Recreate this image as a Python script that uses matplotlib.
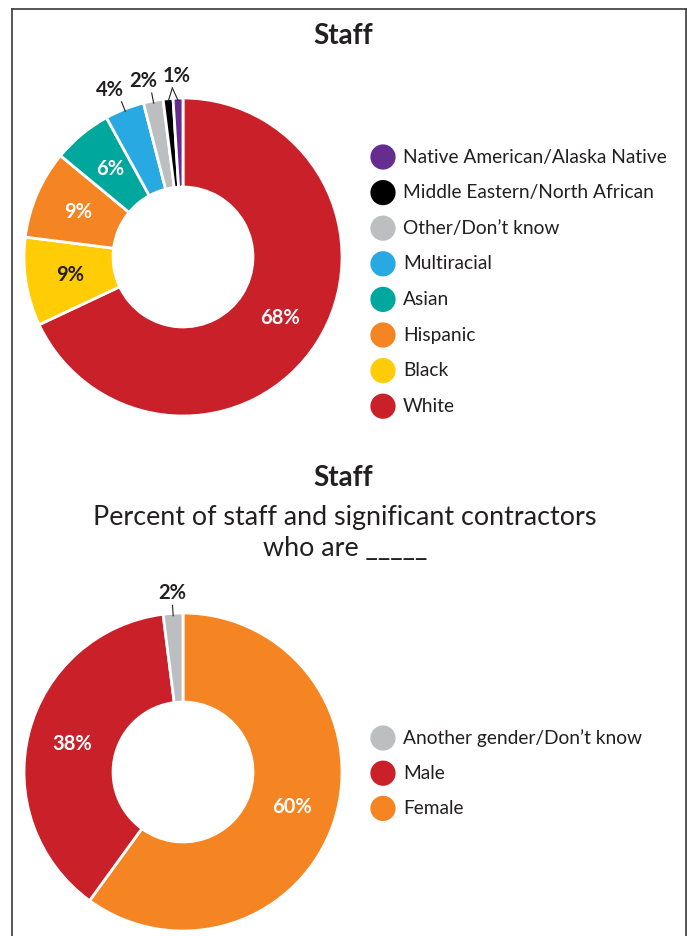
import numpy as np
import matplotlib
matplotlib.use("Agg")
import matplotlib.pyplot as plt
from matplotlib.lines import Line2D

plt.rcParams["font.family"] = ["Lato", "DejaVu Sans"]

W, H, DPI = 687, 936, 100
DARK = "#231F20"

# Staff race / ethnicity, clockwise from 12 o'clock
race_labels = ["White", "Black", "Hispanic", "Asian", "Multiracial",
               "Other/Don\u2019t know", "Middle Eastern/North African",
               "Native American/Alaska Native"]
race_values = [68, 9, 9, 6, 4, 2, 1, 1]
race_colors = ["#C9202A", "#FFCC05", "#F58423", "#00A79D", "#29A9E1",
               "#BCBEC0", "#000000", "#662D91"]

# Staff gender, clockwise from 12 o'clock
gender_labels = ["Female", "Male", "Another gender/Don\u2019t know"]
gender_values = [60, 38, 2]
gender_colors = ["#F58423", "#C9202A", "#BCBEC0"]

fig = plt.figure(figsize=(W / DPI, H / DPI), dpi=DPI)
fig.patch.set_facecolor("white")


def px_axes(x0, y0, w, h):
    """Axes placed by pixel box (top-left origin)."""
    return fig.add_axes([x0 / W, 1 - (y0 + h) / H, w / W, h / H])


def fig_text(x, y, s, **kw):
    fig.text(x / W, 1 - y / H, s, ha="center", va="center", **kw)


def polar(angle_deg, r):
    a = np.deg2rad(angle_deg)
    return r * np.cos(a), r * np.sin(a)


def donut(cx, cy, radius, values, colors, inside_min, text_colors, outside):
    ax = px_axes(cx - radius, cy - radius, 2 * radius, 2 * radius)
    wedges, _ = ax.pie(values, colors=colors, startangle=90, counterclock=False,
                       radius=1.0,
                       wedgeprops=dict(width=0.56, edgecolor="white", linewidth=2))
    ax.set_xlim(-1, 1)
    ax.set_ylim(-1, 1)
    ax.set_aspect("equal")
    ax.axis("off")
    mids = [(w.theta1 + w.theta2) / 2 for w in wedges]
    for v, m, tc in zip(values, mids, text_colors):
        if v >= inside_min:
            x, y = polar(m, 0.72)
            ax.text(x, y, f"{v}%", ha="center", va="center", fontsize=14.5,
                    fontweight="bold", color=tc)
    # small slices: leader ticks and labels outside the ring
    for idx_group, nudge in outside:
        ends = []
        for i in idx_group:
            x0, y0 = polar(mids[i], 0.985)
            x1, y1 = polar(mids[i], 1.05)
            ends.append((x0, y0, x1, y1))
        if len(idx_group) == 1:
            x0, y0, x1, y1 = ends[0]
            ax.plot([x0, x1], [y0, y1], color=DARK, lw=0.8, clip_on=False)
            tx, ty = x1, y1
        else:
            am = np.mean([mids[i] for i in idx_group])
            ax_, ay_ = polar(am, 1.065)
            for x0, y0, _, _ in ends:
                ax.plot([x0, ax_], [y0, ay_], color=DARK, lw=0.8, clip_on=False)
            tx, ty = ax_, ay_
        v = values[idx_group[0]]
        ax.text(tx + nudge, ty + 0.012, f"{v}%", ha="center", va="bottom",
                fontsize=14.5, fontweight="bold", color=DARK)
    return ax


def legend(x_marker, y_top, spacing, labels, colors):
    n = len(labels)
    ax = px_axes(x_marker - 15, y_top - spacing / 2, 310, n * spacing)
    ax.set_xlim(0, 310)
    ax.set_ylim(n - 0.5, -0.5)
    ax.axis("off")
    rows = np.arange(n)
    ax.scatter(np.full(n, 15), rows, s=330, c=colors, edgecolors="none", clip_on=False)
    for r, lab in zip(rows, labels):
        ax.text(35, r, lab, ha="left", va="center", fontsize=13.8, color=DARK)


# ---- Race / ethnicity ----
fig_text(343, 36, "Staff", fontsize=20, fontweight="bold", color=DARK)
race_text = ["white", DARK, "white", "white", DARK, DARK, DARK, DARK]
donut(183, 257, 159, race_values, race_colors, 6, race_text,
      outside=[([4], -0.07), ([5], -0.055), ([6, 7], 0.03)])
legend(383, 157, 35.6, race_labels[::-1], race_colors[::-1])

# ---- Gender ----
fig_text(343, 478, "Staff", fontsize=20, fontweight="bold", color=DARK)
fig_text(345, 518, "Percent of staff and significant contractors", fontsize=19.4, color=DARK)
fig_text(345, 548, "who are _____", fontsize=19.4, color=DARK)
gender_text = ["white", "white", DARK]
donut(183, 772, 159, gender_values, gender_colors, 10, gender_text,
      outside=[([2], 0.0)])
legend(383, 738, 35.2, gender_labels[::-1], gender_colors[::-1])

# frame around the panel (open at the bottom)
frame = dict(color="#3A3A3A", lw=1.2, transform=fig.transFigure)
top, left, right = 1 - 8.5 / H, 11.5 / W, 685.5 / W
fig.add_artist(Line2D([left, right], [top, top], **frame))
fig.add_artist(Line2D([left, left], [0, top], **frame))
fig.add_artist(Line2D([right, right], [0, top], **frame))

fig.savefig("out.png", dpi=DPI, facecolor="white")
